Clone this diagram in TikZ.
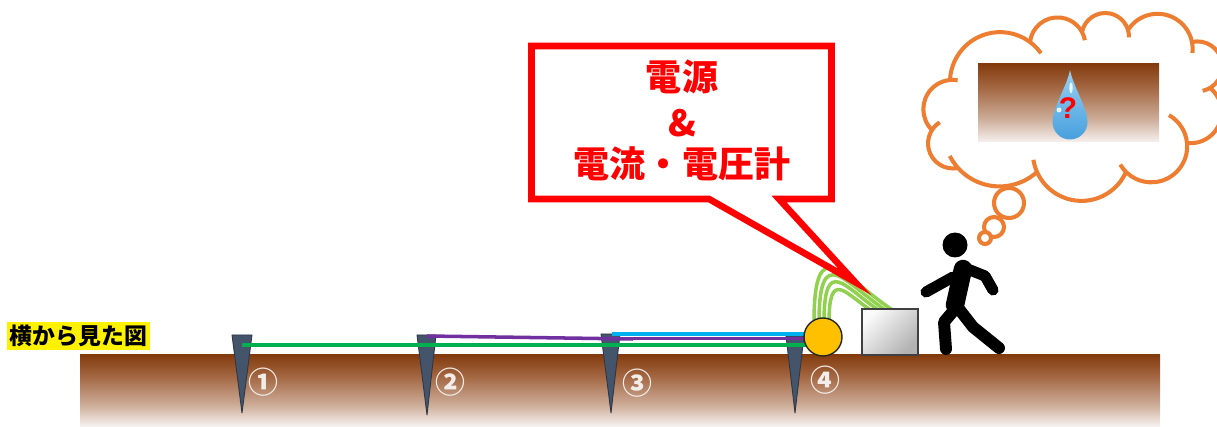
\documentclass[tikz,border=0pt]{standalone}
\usepackage{fontspec}
\setmainfont{Liberation Sans}
\newfontfamily\jp{Noto Sans CJK JP}
\usetikzlibrary{calc}

\definecolor{soiltop}{RGB}{132,60,14}
\definecolor{soilmid}{RGB}{163,103,66}
\definecolor{soillow}{RGB}{205,172,152}
\definecolor{soilbot}{RGB}{246,241,239}
\definecolor{stakefill}{RGB}{68,84,106}
\definecolor{stakeline}{RGB}{45,55,70}
\definecolor{wiregreen}{RGB}{0,176,80}
\definecolor{wirepurple}{RGB}{112,48,160}
\definecolor{wireblue}{RGB}{0,176,240}
\definecolor{leadgreen}{RGB}{146,208,80}
\definecolor{meterorange}{RGB}{255,192,0}
\definecolor{cloudorange}{RGB}{237,125,49}
\definecolor{numwhite}{RGB}{242,237,234}
\definecolor{dropdark}{RGB}{72,160,222}
\definecolor{droplight}{RGB}{150,208,242}

% the shaded path is fitted to the 25bp--75bp band of the shading
\pgfdeclareverticalshading{soil}{100bp}{color(0bp)=(soilbot); color(25bp)=(soilbot); color(40bp)=(soillow); color(60bp)=(soilmid); color(75bp)=(soiltop); color(100bp)=(soiltop)}

\begin{document}
\begin{tikzpicture}[x=0.02cm,y=0.02cm,
  stake/.style={fill=stakefill,draw=stakeline,line width=0.5pt,line join=round},
  wire/.style={line width=2pt},
  lead/.style={draw=leadgreen,line width=2pt},
  meter/.style={circle,draw=black!85,line width=0.8pt,fill=meterorange,minimum size=0.76cm,inner sep=0pt},
  unit/.style={rectangle,draw=black!75,line width=0.8pt,top color=gray!4,bottom color=gray!60,shading angle=45,minimum width=1.12cm,minimum height=0.92cm,inner sep=0pt},
  callout/.style={draw=red,fill=white,line width=3.75pt,miter limit=10},
  calltext/.style={text=red,font=\jp\bfseries\fontsize{20.5}{20.5}\selectfont,inner sep=0pt},
  num/.style={text=numwhite,font=\jp\bfseries\fontsize{17}{17}\selectfont,inner sep=0pt},
  cloudline/.style={draw=cloudorange,line width=2.3pt},
  bubble/.style={draw=cloudorange,fill=white,line width=2.3pt},
  limb/.style={draw=black,line cap=round,line join=round}]

\useasboundingbox (0,0) rectangle (1217,426);

% ground seen from the side
\path[shading=soil] (80,0) rectangle (1160,71);

% title
\fill[yellow] (7,76) rectangle (150,104);
\node[font=\jp\bfseries\fontsize{13}{13}\selectfont,inner sep=0pt] (title) at (78.5,90) {横から見た図};

% electrodes driven into the ground
\filldraw[stake] (232,91) -- (252,91) -- (242,13) -- cycle;
\filldraw[stake] (417,91) -- (436,91) -- (427,11) -- cycle;
\filldraw[stake] (601,92) -- (620,92) -- (611,13) -- cycle;
\filldraw[stake] (786,90) -- (804,90) -- (795,13) -- cycle;

\node[num] (n1) at (263,44) {①};
\node[num] (n2) at (450,44) {②};
\node[num] (n3) at (637,43) {③};
\node[num] (n4) at (825,46) {④};

% cables from the electrodes to the meter
\coordinate (meterc) at (823,89);
\coordinate (g1) at (242,81);
\coordinate (v2) at (427,90);
\coordinate (v3) at (633,87);
\coordinate (v3b) at (606,87.5);
\coordinate (b3) at (612,92);
\draw[wire,wiregreen] (g1) -- (g1 -| meterc);
\draw[wire,wirepurple] (v2) -- (v3);
\draw[wire,wirepurple] (v3b) -- (v3b -| meterc);
\draw[wire,wireblue] (b3) -- (b3 -| meterc);

% leads between meter and instrument
\foreach \sx/\ex/\h/\k in {814/894/96/50, 819/887/83/42, 824/880/70/35, 829/872/55/27}
  \draw[lead] (\sx,103) .. controls (\sx,103+\h) and (\ex-\k,115+0.65*\k) .. (\ex,115);

\node[meter] (meter) at (meterc) {};
\node[unit] (unit) at (890,94) {};

% speech balloon
\draw[callout] (531.5,380) -- (831.5,380) -- (831.5,227) -- (779,227) -- (855,144) -- (709,227) -- (531.5,227) -- cycle;
\node[calltext] (t1) at (682,349) {電源};
\node[calltext] (t2) at (682,303) {\&};
\node[calltext] (t3) at (682,262) {電流・電圧計};

% walking person
\fill[black] (955,181) circle[radius=0.25cm];
\draw[limb,line width=10.5pt] (963,157) -- (955,121);
\draw[limb,line width=6.3pt] (953,149) -- (926,134);
\draw[limb,line width=6.3pt] (965,158) -- (985,150) -- (993,136);
\draw[limb,line width=6.8pt] (955,117) -- (944,104) -- (946,77);
\draw[limb,line width=6.8pt] (959,117) -- (973,99) -- (999,78);

% thought cloud
\foreach \ax/\ay/\bx/\by/\sw/\pre/\post in {
  950/346/1030/384/124/0/18, 1030/384/1082/394/145/0/18,
  1082/394/1128/396/152/0/18, 1128/396/1192/384/136/0/18,
  1192/384/1210/338/162/0/18, 1210/338/1187/283/148/0/0,
  1187/283/1126/254/140/55/15, 1126/254/1037/254/132/0/15,
  1037/254/958/258/90/0/15, 958/258/932/296/134/0/25,
  932/296/950/346/130/0/15}{
  \pgfmathsetmacro\ang{atan2(\by-\ay,\bx-\ax)}
  \pgfmathsetmacro\rad{veclen(\bx-\ax,\by-\ay)/(2*sin(\sw/2))*0.569055}
  \pgfmathsetmacro\sa{\ang+90+\sw/2}
  \pgfmathsetmacro\sb{\sa+\pre}
  \pgfmathsetmacro\ea{\ang+90-\sw/2-\post}
  \draw[cloudline] (\ax,\ay) arc[start angle=\sa, end angle=\sb, radius=\rad pt]
                   (\ax,\ay) arc[start angle=\sa, end angle=\ea, radius=\rad pt];
}
\draw[bubble] (1009,223) circle[radius=0.3cm];
\draw[bubble] (994,199) circle[radius=0.2cm];
\draw[bubble] (985,188) circle[radius=0.12cm];

% the ground in mind, with a drop of water
\path[shading=soil] (978,284) rectangle (1159,362);
\shade[top color=droplight,bottom color=dropdark] (1070,356) .. controls (1073,340) and (1087.5,318) .. (1087.5,304)
  arc[start angle=0,end angle=-180,radius=0.35cm]
  .. controls (1052.5,318) and (1067,340) .. (1070,356) -- cycle;
\fill[white,opacity=0.85] (1071,338) ellipse[x radius=0.035cm,y radius=0.11cm];
\fill[white,opacity=0.85] (1059,316) circle[radius=0.05cm];
\node[text=red,font=\bfseries\fontsize{17}{17}\selectfont,inner sep=0pt] (q) at (1068,318) {?};

\end{tikzpicture}
\end{document}
